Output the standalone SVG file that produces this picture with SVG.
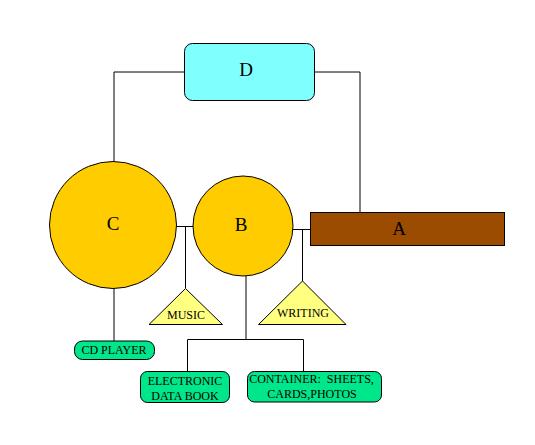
<svg xmlns="http://www.w3.org/2000/svg" width="535" height="445" viewBox="0 0 535 445">
<style>
.ln{fill:none;stroke:#000;stroke-width:1}
.big{font-family:"Liberation Serif","Times New Roman",serif;font-size:19px;fill:#000;text-anchor:middle}
.sm{font-family:"Liberation Serif","Times New Roman",serif;font-size:12px;fill:#000;text-anchor:middle}
.circ{fill:#FFCC00;stroke:#000;stroke-width:1}
.tri{fill:#FFFF80;stroke:#000;stroke-width:1}
.grn{fill:#00E68A;stroke:#000;stroke-width:1}
</style>
<rect width="535" height="445" fill="#fff"/>
<g id="connectors">
<polyline class="ln" points="184,72 114,72 114,162"/>
<polyline class="ln" points="314,72 360,72 360,212"/>
<line class="ln" x1="176" y1="226.5" x2="193" y2="226.5"/>
<line class="ln" x1="185.5" y1="226.5" x2="185.5" y2="288"/>
<line class="ln" x1="292" y1="229.5" x2="310" y2="229.5"/>
<line class="ln" x1="302.5" y1="229.5" x2="302.5" y2="281"/>
<line class="ln" x1="114" y1="288" x2="114" y2="341"/>
<polyline class="ln" points="246,276 246,339.5"/>
<polyline class="ln" points="187.5,371 187.5,339.5 303.5,339.5 303.5,371"/>
</g>
<g id="D">
<rect x="184.5" y="43.5" width="130" height="57" rx="8" fill="#80FFFF" stroke="#000"/>
<text class="big" x="246" y="75.5">D</text>
</g>
<g id="C">
<circle class="circ" cx="113" cy="225" r="63.5"/>
<text class="big" x="113" y="229.5">C</text>
</g>
<g id="B">
<circle class="circ" cx="243" cy="226" r="50"/>
<text class="big" x="241" y="230.5">B</text>
</g>
<g id="A">
<rect x="310.5" y="212.5" width="194" height="33" fill="#9C4C00" stroke="#000"/>
<text class="big" x="399" y="235">A</text>
</g>
<g id="MUSIC">
<polygon class="tri" points="185.5,288.5 149,324.5 222.5,324.5"/>
<text class="sm" x="186" y="318.5">MUSIC</text>
</g>
<g id="WRITING">
<polygon class="tri" points="302.5,281 258.5,324.5 346,324.5"/>
<text class="sm" x="303" y="316.5">WRITING</text>
</g>
<g id="CDPLAYER">
<rect class="grn" x="74.5" y="341" width="80" height="18.5" rx="8"/>
<text class="sm" x="114" y="353.5">CD PLAYER</text>
</g>
<g id="EDB">
<rect class="grn" x="140.5" y="371.5" width="89" height="31" rx="7"/>
<text class="sm" x="185" y="384.5">ELECTRONIC</text>
<text class="sm" x="185" y="399.5">DATA BOOK</text>
</g>
<g id="CONTAINER">
<rect class="grn" x="247.5" y="371.5" width="134" height="30.5" rx="7"/>
<text class="sm" x="311.5" y="383">CONTAINER:&#160; SHEETS,</text>
<text class="sm" x="312" y="398">CARDS,PHOTOS</text>
</g>
</svg>
